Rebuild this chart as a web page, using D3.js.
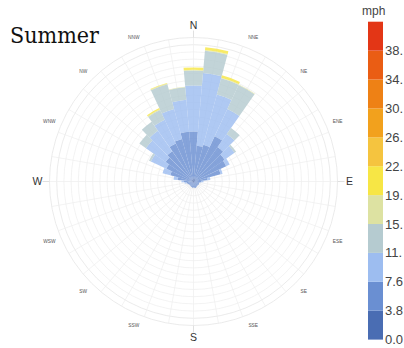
<!DOCTYPE html>
<html><head><meta charset="utf-8">
<script src="https://cdn.jsdelivr.net/npm/d3@7"></script>
<style>body{margin:0;background:#fff}svg{display:block;overflow:hidden}</style>
</head><body><svg id="c" width="404" height="348"></svg>
<script>
// ---- data ----
const title = "Summer";
const unitLabel = "mph";
const directions = d3.range(0, 360, 10); // bar centres, degrees
const dirLabels = ["N","NNE","NE","ENE","E","ESE","SE","SSE","S","SSW","SW","WSW","W","WNW","NW","NNW"];
const speedBreaks = [0.0, 3.8, 7.6, 11.4, 15.2, 19.0, 22.8, 26.6, 30.4, 34.2, 38.0, 41.8];
const breakLabels = ["0.0","3.8","7.6","11.","15.","19.","22.","26.","30.","34.","38."];
const speedColors = ["#4a6db3","#6a8fd2","#9dbdf0","#b5cbd0","#dde2a2","#f7e645","#f5c43f","#f2a11d","#ee8115","#ea5d14","#e33616"];
// frequency (%) per direction, one array per speed bin
const bin0to3_8 = [.25,.25,.25,.25,.17,.17,.17,.17,.08,.08,.08,.08,.08,.08,.08,.08,.1,.1,.1,.1,.08,.08,.08,.08,.08,.08,.08,.08,.17,.17,.17,.17,.17,.17,.17,.25];
const bin3_8to7_6 = [3.92,2.75,2.92,3.92,3.33,3.0,2.83,2.17,1.08,.58,.42,.40,.42,.38,.40,.42,.45,.42,.40,.42,.40,.38,.36,.35,.38,.45,.5,.75,1.17,1.83,2.33,2.67,2.92,3.33,3.5,3.92];
const bin7_6to11_4 = [3.83,6.08,4.33,2.5,1.33,1.0,.33,.17,.25,.17,.08,0,0,0,0,0,0,0,0,0,0,0,0,0,0,0,.17,.17,.33,.67,1.42,2.0,2.08,2.17,2.58,2.67];
const bin11_4to15_2 = [1.25,1.85,1.4,2.2,.62,.17,0,0,0,0,0,0,0,0,0,0,0,0,0,0,0,0,0,0,0,0,0,0,0,0,.17,.67,.92,.9,2.15,1.05];
const bin15_2to19 = [.06,.08,.06,.05,0,0,0,0,0,0,0,0,0,0,0,0,0,0,0,0,0,0,0,0,0,0,0,0,0,0,0,0,0,.08,.06,.04];
const bin19to22_8 = [.2,.22,.2,0,0,0,0,0,0,0,0,0,0,0,0,0,0,0,0,0,0,0,0,0,0,0,0,0,0,0,0,0,0,.1,.04,0];
const bins = [bin0to3_8, bin3_8to7_6, bin7_6to11_4, bin11_4to15_2, bin15_2to19, bin19to22_8];
const maxFreq = 12;

// ---- layout ----
const svg = d3.select("#c");
const cx = 193.5, cy = 181.5, R = 144;
const g = svg.append("g").attr("transform", `translate(${cx},${cy})`);
const rad = d3.scaleLinear().domain([0, maxFreq]).range([0, R]);
const ang = d3.scaleLinear().domain([0, 360]).range([0, 2 * Math.PI]);
const half = 5;

// grid
const ringVals = d3.range(1, 21).map(i => i * maxFreq / 20);
g.append("g").selectAll("circle").data(ringVals).join("circle")
  .attr("r", d => rad(d)).attr("fill", "none")
  .attr("stroke", (d, i) => i >= 18 ? "#e2e2e2" : "#eeeeee").attr("stroke-width", 0.7);
g.append("g").selectAll("line").data(directions).join("line")
  .attr("x1", 0).attr("y1", 0)
  .attr("x2", d => rad(maxFreq) * Math.sin(ang(d)))
  .attr("y2", d => -rad(maxFreq) * Math.cos(ang(d)))
  .attr("stroke", "#eeeeee").attr("stroke-width", 0.7);
// cardinal ticks
g.append("g").selectAll("line").data([0, 90, 180, 270]).join("line")
  .attr("x1", d => rad(maxFreq) * Math.sin(ang(d)))
  .attr("y1", d => -rad(maxFreq) * Math.cos(ang(d)))
  .attr("x2", d => (R + 7) * Math.sin(ang(d)))
  .attr("y2", d => -(R + 7) * Math.cos(ang(d)))
  .attr("stroke", "#d8d8d8").attr("stroke-width", 0.8);

// stacked bars
const table = directions.map((d, i) => {
  const o = { dir: d };
  bins.forEach((b, k) => o["b" + k] = b[i]);
  return o;
});
const stack = d3.stack().keys(bins.map((b, k) => "b" + k))(table);
const arc = d3.arc()
  .innerRadius(d => rad(d[0])).outerRadius(d => rad(d[1]))
  .startAngle(d => ang(d.data.dir - half)).endAngle(d => ang(d.data.dir + half));
g.append("g").selectAll("g").data(stack).join("g")
  .attr("fill", (s, k) => speedColors[k]).attr("fill-opacity", 0.82)
  .selectAll("path").data(s => s.filter(d => d[1] > d[0])).join("path")
  .attr("d", arc);

// direction labels
const LR = 156;
g.append("g").selectAll("text").data(dirLabels).join("text")
  .attr("x", (d, i) => LR * Math.sin(ang(i * 22.5)))
  .attr("y", (d, i) => -LR * Math.cos(ang(i * 22.5)))
  .attr("text-anchor", "middle").attr("dy", "0.35em")
  .attr("font-family", "Liberation Sans, Arial, sans-serif")
  .attr("font-size", (d, i) => i % 4 === 0 ? 10.5 : 4.8)
  .attr("fill", (d, i) => i % 4 === 0 ? "#333" : "#555")
  .text(d => d);

// title
svg.append("text").attr("x", 10).attr("y", 43)
  .attr("font-family", "DejaVu Serif, serif").attr("font-size", 22.5)
  .attr("textLength", 89).attr("lengthAdjust", "spacingAndGlyphs")
  .attr("fill", "#111").text(title);

// colour bar
const cb = svg.append("g");
const yb = d3.scaleLinear().domain([speedBreaks[0], speedBreaks[speedBreaks.length - 1]]).range([339.6, 21.7]);
cb.selectAll("rect").data(speedColors).join("rect")
  .attr("x", 368).attr("width", 15)
  .attr("y", (c, i) => yb(speedBreaks[i + 1]))
  .attr("height", (c, i) => yb(speedBreaks[i]) - yb(speedBreaks[i + 1]))
  .attr("fill", c => c);
cb.selectAll("text.t").data(breakLabels).join("text").attr("class", "t")
  .attr("x", 385).attr("y", (d, i) => yb(speedBreaks[i])).attr("dy", "0.35em")
  .attr("font-family", "Liberation Sans, Arial, sans-serif").attr("font-size", 13)
  .attr("fill", "#444").text(d => d);
cb.append("text").attr("x", 362).attr("y", 15)
  .attr("font-family", "Liberation Sans, Arial, sans-serif").attr("font-size", 12)
  .attr("fill", "#444").text(unitLabel);
</script></body></html>
